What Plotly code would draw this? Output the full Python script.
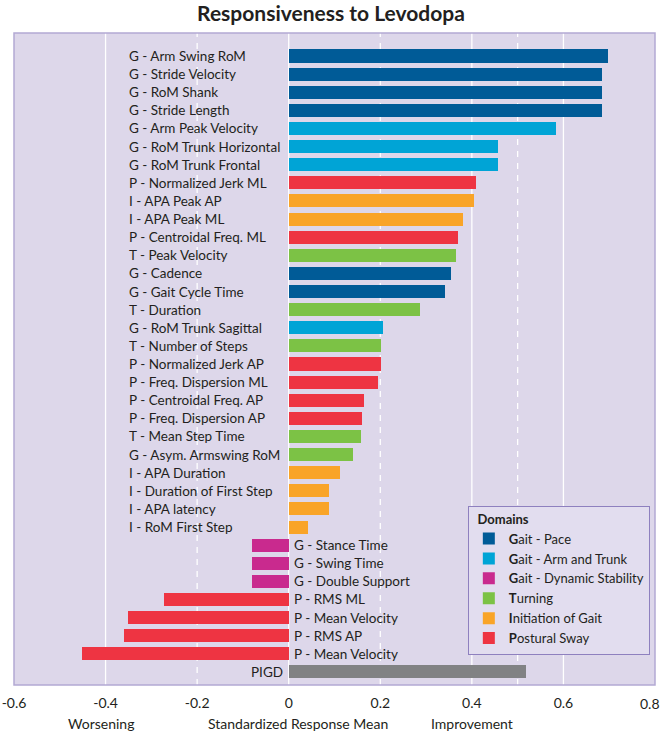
import plotly.graph_objects as go

# ---------------- data ----------------
categories = [
    "G - Arm Swing RoM", "G - Stride Velocity", "G - RoM Shank", "G - Stride Length",
    "G - Arm Peak Velocity", "G - RoM Trunk Horizontal", "G - RoM Trunk Frontal",
    "P - Normalized Jerk ML", "I - APA Peak AP", "I - APA Peak ML",
    "P - Centroidal Freq. ML", "T - Peak Velocity", "G - Cadence", "G - Gait Cycle Time",
    "T - Duration", "G - RoM Trunk Sagittal", "T - Number of Steps",
    "P - Normalized Jerk AP", "P - Freq. Dispersion ML", "P - Centroidal Freq. AP",
    "P - Freq. Dispersion AP", "T - Mean Step Time", "G - Asym. Armswing RoM",
    "I - APA Duration", "I - Duration of First Step", "I - APA latency",
    "I - RoM First Step", "G - Stance Time", "G - Swing Time", "G - Double Support",
    "P - RMS ML", "P - Mean Velocity", "P - RMS AP", "P - Mean Velocity", "PIGD",
]
values = [
    0.697, 0.684, 0.684, 0.684,
    0.583, 0.456, 0.456,
    0.408, 0.405, 0.380,
    0.369, 0.365, 0.354, 0.341,
    0.286, 0.207, 0.201,
    0.201, 0.195, 0.164,
    0.161, 0.158, 0.140,
    0.113, 0.087, 0.087,
    0.043, -0.080, -0.080, -0.080,
    -0.273, -0.352, -0.360, -0.452, 0.518,
]
domains = [
    "pace", "pace", "pace", "pace",
    "arm", "arm", "arm",
    "sway", "init", "init",
    "sway", "turn", "pace", "pace",
    "turn", "arm", "turn",
    "sway", "sway", "sway",
    "sway", "turn", "turn",
    "init", "init", "init",
    "init", "dyn", "dyn", "dyn",
    "sway", "sway", "sway", "sway", "pigd",
]
domain_keys = ["pace", "arm", "dyn", "turn", "init", "sway"]
domain_names = [
    "<b>G</b>ait - Pace", "<b>G</b>ait - Arm and Trunk", "<b>G</b>ait - Dynamic Stability",
    "<b>T</b>urning", "<b>I</b>nitiation of Gait", "<b>P</b>ostural Sway",
]
domain_colors = ["#005b97", "#00a4d6", "#c92a8e", "#7cc245", "#f9a428", "#ee3442"]
pigd_color = "#818284"

tick_vals = [-0.6, -0.4, -0.2, 0, 0.2, 0.4, 0.6]
tick_text = ["-0.6", "-0.4", "-0.2", "0", "0.2", "0.4", "0.6"]
last_tick_text = "0.8"  # drawn at the right edge as an annotation so it is not clipped
solid_grid = [-0.4, 0, 0.4, 0.6]
dashed_grid = [-0.2, 0.2, 0.5]
axis_notes = ["Worsening", "Standardized Response Mean", "Improvement"]
axis_note_x = [-0.41, 0.02, 0.4]

FONT = "Lato"
TXT = "#231f20"
LBL = 13.5
label_x = -0.354  # left edge of positive-bar labels

fig = go.Figure()
idx = list(range(len(categories)))

for key, name, col in zip(domain_keys, domain_names, domain_colors):
    ys = [i for i in idx if domains[i] == key]
    xs = [values[i] for i in ys]
    fig.add_trace(go.Bar(
        x=xs, y=ys, orientation="h", name=name,
        marker=dict(color=col, line=dict(width=0)), width=0.72,
        hoverinfo="skip",
    ))

ys = [i for i in idx if domains[i] == "pigd"]
fig.add_trace(go.Bar(
    x=[values[i] for i in ys], y=ys, orientation="h", showlegend=False,
    marker=dict(color=pigd_color, line=dict(width=0)), width=0.72, hoverinfo="skip",
))

shapes = []
for gx in solid_grid:
    shapes.append(dict(type="line", xref="x", yref="paper", x0=gx, x1=gx, y0=0, y1=1,
                       line=dict(color="white", width=1.3), layer="below"))
for gx in dashed_grid:
    shapes.append(dict(type="line", xref="x", yref="paper", x0=gx, x1=gx, y0=0, y1=1,
                       line=dict(color="white", width=1.3, dash="6px,6px"), layer="below"))

annotations = []
for i, (c, v) in enumerate(zip(categories, values)):
    if domains[i] == "pigd":
        annotations.append(dict(x=0, y=i, xref="x", yref="y", text=c, showarrow=False,
                                xanchor="right", xshift=-4, font=dict(family=FONT, size=LBL, color=TXT)))
    elif v >= 0:
        annotations.append(dict(x=label_x, y=i, xref="x", yref="y", text=c, showarrow=False,
                                xanchor="left", font=dict(family=FONT, size=LBL, color=TXT)))
    else:
        annotations.append(dict(x=0, y=i, xref="x", yref="y", text=c, showarrow=False,
                                xanchor="left", xshift=3, font=dict(family=FONT, size=LBL, color=TXT)))

for txt, xv in zip(axis_notes, axis_note_x):
    annotations.append(dict(x=xv, y=0, xref="x", yref="paper", text=txt,
                            showarrow=False, xanchor="center", yanchor="top", yshift=-28,
                            font=dict(family=FONT, size=14, color=TXT)))

annotations.append(dict(x=1, y=0, xref="paper", yref="paper", text=last_tick_text,
                        showarrow=False, xanchor="right", xshift=7, yanchor="middle", yshift=-18,
                        font=dict(family=FONT, size=14, color=TXT)))

fig.update_layout(
    width=662, height=732,
    margin=dict(l=14, r=7, t=33, b=47),
    paper_bgcolor="white",
    plot_bgcolor="#ddd7ea",
    barmode="overlay",
    bargap=0,
    title=dict(text="<b>Responsiveness to Levodopa</b>", x=0.5, xanchor="center",
               y=1 - 14 / 732, yanchor="middle", yref="container",
               font=dict(family=FONT, size=21, color=TXT)),
    xaxis=dict(range=[-0.6, 0.8], tickvals=tick_vals, ticktext=tick_text, showgrid=False,
               zeroline=False, showline=False, ticks="", automargin=False,
               ticklabelstandoff=8, ticklabeloverflow="allow",
               tickfont=dict(family=FONT, size=14, color=TXT), fixedrange=True),
    yaxis=dict(range=[34.72, -1.27], showticklabels=False, showgrid=False, zeroline=False,
               showline=False, ticks="", automargin=False, fixedrange=True),
    legend=dict(
        x=0.708, y=0.275, xanchor="left", yanchor="top",
        bgcolor="#e2ddef", bordercolor="#8e80bf", borderwidth=1,
        title=dict(text="&nbsp;&nbsp;<b>Domains</b>", font=dict(family=FONT, size=13, color=TXT)),
        font=dict(family=FONT, size=13, color=TXT),
        tracegroupgap=0, itemwidth=30,
    ),
    shapes=shapes + [dict(type="rect", xref="paper", yref="paper", x0=0, x1=1, y0=0, y1=1,
                          line=dict(color="#b3a9d3", width=1.5), layer="above")],
    annotations=annotations,
    showlegend=True,
)

fig.write_html("out.html", config={"displayModeBar": False},
               post_script="document.body.style.margin='0px';")
